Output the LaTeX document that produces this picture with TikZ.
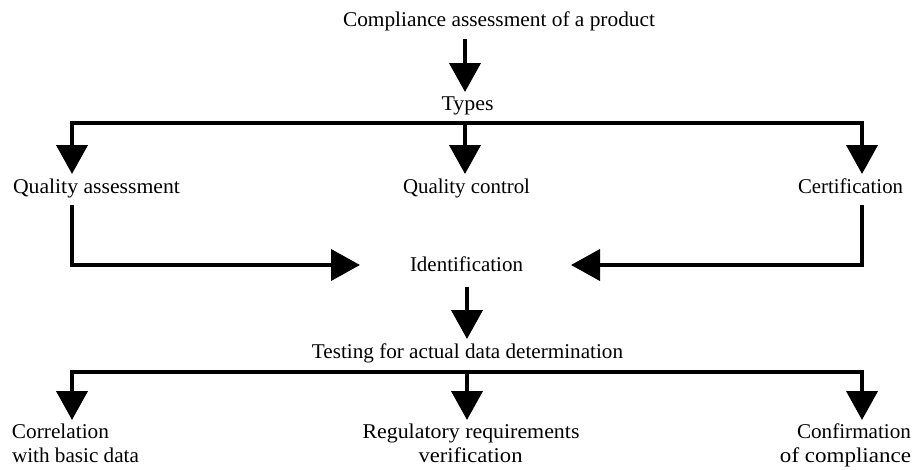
\documentclass[tikz,border=0pt]{standalone}
\usepackage{fontspec}
\setmainfont{Liberation Serif}
\usetikzlibrary{arrows.meta}
\newcommand\fitw[2]{\resizebox{#1pt}{\height}{#2}}
\begin{document}
\begin{tikzpicture}[x=1pt,y=-1pt,line width=4pt,
  arr/.style={-{Triangle[width=31pt,length=29pt]}},
  lbl/.style={font=\fontsize{21}{24}\selectfont,inner sep=0pt}]
\useasboundingbox (0,0) rectangle (917,469);
% labels (anchored on their baselines)
\node[lbl,anchor=base] (title) at (499,26) {\fitw{312}{Compliance assessment of a product}};
\node[lbl,anchor=base] (types) at (467.5,110) {\fitw{52}{Types}};
\node[lbl,anchor=base west] (qa) at (11,193) {\fitw{167}{Quality assessment}};
\node[lbl,anchor=base] (qc) at (466.5,193) {\fitw{127}{Quality control}};
\node[lbl,anchor=base east] (cert) at (905,193) {\fitw{105}{Certification}};
\node[lbl,anchor=base] (ident) at (466.5,271) {\fitw{113}{Identification}};
\node[lbl,anchor=base] (test) at (467.5,358) {\fitw{311}{Testing for actual data determination}};
\node[lbl,anchor=base west] (corr) at (10,438) {\fitw{97}{Correlation}};
\node[lbl,anchor=base west] (corrb) at (10,462) {\fitw{127}{with basic data}};
\node[lbl,anchor=base] (reg) at (471,438) {\fitw{217}{Regulatory requirements}};
\node[lbl,anchor=base] (regb) at (470.5,462) {\fitw{104}{verification}};
\node[lbl,anchor=base east] (conf) at (913,438) {\fitw{114}{Confirmation}};
\node[lbl,anchor=base east] (confb) at (913,462) {\fitw{131}{of compliance}};
% connector end points
\coordinate (t0) at (465,39);
\coordinate (t1) at (465,92);
\coordinate (h1) at (465,123);
\coordinate (qaT) at (72,174);
\coordinate (qcT) at (465,174);
\coordinate (ceT) at (862,174);
\coordinate (qaB) at (72,205);
\coordinate (ceB) at (862,205);
\coordinate (idL) at (360,265);
\coordinate (idR) at (571,265);
\coordinate (i0) at (467,287);
\coordinate (i1) at (467,339);
\coordinate (h2) at (467,372);
\coordinate (coT) at (72,420);
\coordinate (reT) at (467,420);
\coordinate (cfT) at (862,420);
% connectors
\draw[arr] (t0) -- (t1);
\draw[arr] (h1) -| (qaT);
\draw[arr] (h1) -- (qcT);
\draw[arr] (h1) -| (ceT);
\draw[arr] (qaB) |- (idL);
\draw[arr] (ceB) |- (idR);
\draw[arr] (i0) -- (i1);
\draw[arr] (h2) -| (coT);
\draw[arr] (h2) -- (reT);
\draw[arr] (h2) -| (cfT);
\end{tikzpicture}
\end{document}
